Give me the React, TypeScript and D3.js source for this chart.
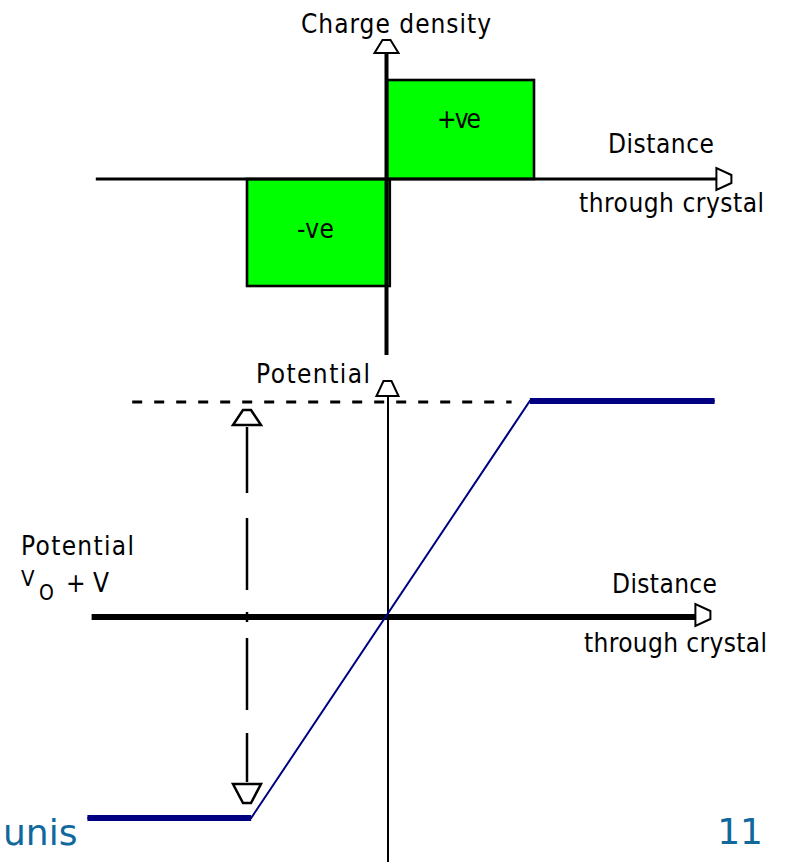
import React from "react";
import * as d3 from "d3";

const W = 792;
const H = 862;

// ---------- data (diagram units) ----------
// distance through crystal, in depletion-width units (0 = junction)
// Top panel: charge density blocks
const chargeLabels = ["-ve", "+ve"];
const chargeX0 = [-1.0, 0.0];
const chargeX1 = [0.02, 1.05];
const chargeRho = [-1.07, 0.99];

// Top panel axis extents
const topAxisX = [-2.08, 2.46];
const topAxisRho = [-1.76, 1.39];

// Bottom panel: potential profile
const potentialX = [-2.14, -0.97, 1.02, 2.34];
const potentialV = [-2.01, -2.01, 2.16, 2.16];

// Bottom panel axis extents
const botAxisX = [-2.11, 2.31];
const botAxisV = [-2.45, 2.36];

// reference dashed level (Vo + V)
const refDashX = [-1.82, 0.89];
const refDashV = 2.16;

// double-headed dashed arrow marking Vo + V
const arrowX = -1.0;
const arrowTipV = [2.07, -1.86];
const arrowSegV0 = [1.9, 0.99, 0.05, -0.21, -1.16];
const arrowSegV1 = [1.24, 0.27, -0.05, -0.93, -1.65];

// text
const titleTop = "Charge density";
const titleBottom = "Potential";
const distLabel1 = "Distance";
const distLabel2 = "through crystal";
const sideLabel = "Potential";
const footerLeft = "unis";
const footerRight = "11";

const GREEN = "#00ff00";
const NAVY = "#000080";
const FOOT = "#11689c";
const LABEL_FONT = "'DejaVu Sans Condensed', 'DejaVu Sans', sans-serif";

function upArrow(cx: number, tip: number, h: number, half: number) {
  return `M${cx - 4},${tip} L${cx + 4},${tip} L${cx + half},${tip + h} L${cx - half},${tip + h} Z`;
}
function downArrow(cx: number, tip: number, h: number, half: number) {
  return `M${cx - 4},${tip} L${cx + 4},${tip} L${cx + half},${tip - h} L${cx - half},${tip - h} Z`;
}
function rightArrow(tip: number, cy: number, h: number, half: number) {
  return `M${tip},${cy - 4} L${tip},${cy + 4} L${tip - h},${cy + half} L${tip - h},${cy - half} Z`;
}

function Label(props: { x: number; y: number; len: number; text: string; size?: number }) {
  return (
    <text
      x={props.x}
      y={props.y}
      fontSize={props.size ?? 26}
      fontFamily={LABEL_FONT}
      textLength={props.len}
      lengthAdjust="spacing"
      fill="#000"
    >
      {props.text}
    </text>
  );
}

export default function App() {
  const x = d3.scaleLinear().domain([-1, 1]).range([247, 527]);
  const yTop = d3.scaleLinear().domain([-1, 1]).range([279, 79]);
  const yPot = d3.scaleLinear().domain([-1, 1]).range([717, 517]);

  const potLine = d3
    .line<number>()
    .x((_, i) => x(potentialX[i]))
    .y((d) => yPot(d));

  const flatSegs = [
    [0, 1],
    [2, 3],
  ];

  return (
    <svg
      width={W}
      height={H}
      viewBox={`0 0 ${W} ${H}`}
      style={{ position: "absolute", left: 0, top: 0, display: "block", background: "#fff" }}
    >
      <rect x={0} y={0} width={W} height={H} fill="#fff" />

      {/* ---------- top panel: charge density ---------- */}
      {chargeLabels.map((lab, i) => {
        const xa = x(chargeX0[i]);
        const xb = x(chargeX1[i]);
        const ya = yTop(Math.max(0, chargeRho[i]));
        const yb = yTop(Math.min(0, chargeRho[i]));
        return (
          <rect
            key={lab}
            x={xa}
            y={ya}
            width={xb - xa}
            height={yb - ya}
            fill={GREEN}
            stroke="#000"
            strokeWidth={2.6}
          />
        );
      })}
      {/* horizontal axis */}
      <line
        x1={x(topAxisX[0])}
        x2={x(topAxisX[1]) - 15}
        y1={yTop(0)}
        y2={yTop(0)}
        stroke="#000"
        strokeWidth={3}
      />
      <path d={rightArrow(x(topAxisX[1]), yTop(0), 15, 11)} fill="#fff" stroke="#000" strokeWidth={2} />
      {/* vertical axis */}
      <line
        x1={x(0) - 0.5}
        x2={x(0) - 0.5}
        y1={yTop(topAxisRho[0])}
        y2={yTop(topAxisRho[1]) + 13}
        stroke="#000"
        strokeWidth={4}
      />
      <path d={upArrow(x(0) - 0.5, yTop(topAxisRho[1]), 13, 12)} fill="#fff" stroke="#000" strokeWidth={2} />

      <Label x={301} y={33} len={190} text={titleTop} />
      <Label x={437} y={128} len={44} text={chargeLabels[1]} />
      <Label x={297} y={238} len={37} text={chargeLabels[0]} />
      <Label x={608} y={153} len={106} text={distLabel1} />
      <Label x={579} y={212} len={185} text={distLabel2} />

      {/* ---------- bottom panel: potential ---------- */}
      {/* dashed reference level */}
      <line
        x1={x(refDashX[0])}
        x2={x(refDashX[1])}
        y1={yPot(refDashV) + 1}
        y2={yPot(refDashV) + 1}
        stroke="#000"
        strokeWidth={3}
        strokeDasharray="10 12"
      />
      {/* vertical axis */}
      <line
        x1={x(0) + 1}
        x2={x(0) + 1}
        y1={yPot(botAxisV[0])}
        y2={yPot(botAxisV[1]) + 15}
        stroke="#000"
        strokeWidth={2}
      />
      <path d={upArrow(x(0) + 0.5, yPot(botAxisV[1]), 15, 11)} fill="#fff" stroke="#000" strokeWidth={2} />
      {/* horizontal axis */}
      <line
        x1={x(botAxisX[0])}
        x2={x(botAxisX[1]) - 15}
        y1={yPot(0)}
        y2={yPot(0)}
        stroke="#000"
        strokeWidth={6}
      />
      <path d={rightArrow(x(botAxisX[1]), yPot(0) - 2, 15, 11)} fill="#fff" stroke="#000" strokeWidth={2} />

      {/* dashed double arrow */}
      {arrowSegV0.map((v0, i) => (
        <line
          key={i}
          x1={x(arrowX)}
          x2={x(arrowX)}
          y1={yPot(v0)}
          y2={yPot(arrowSegV1[i])}
          stroke="#000"
          strokeWidth={2.5}
        />
      ))}
      <path d={upArrow(x(arrowX), yPot(arrowTipV[0]), 15, 14)} fill="#fff" stroke="#000" strokeWidth={2.5} />
      <path d={downArrow(x(arrowX), yPot(arrowTipV[1]), 19, 14)} fill="#fff" stroke="#000" strokeWidth={2.5} />

      {/* potential profile */}
      <path d={potLine(potentialV) ?? ""} fill="none" stroke={NAVY} strokeWidth={2} />
      {flatSegs.map(([a, b], i) => (
        <line
          key={i}
          x1={x(potentialX[a])}
          x2={x(potentialX[b])}
          y1={yPot(potentialV[a])}
          y2={yPot(potentialV[b])}
          stroke={NAVY}
          strokeWidth={6}
        />
      ))}

      <Label x={256} y={383} len={114} text={titleBottom} />
      <Label x={21} y={555} len={113} text={sideLabel} />
      <text fontFamily={LABEL_FONT} fill="#000">
        <tspan x={21} y={586} fontSize={22}>V</tspan>
        <tspan x={39} y={600} fontSize={21}>O</tspan>
        <tspan x={66} y={592} fontSize={26}>+ V</tspan>
      </text>
      <Label x={612} y={593} len={105} text={distLabel1} />
      <Label x={584} y={652} len={183} text={distLabel2} />

      {/* footer */}
      <text x={3} y={845} fontSize={36} fontFamily="'DejaVu Sans', Verdana, sans-serif" fill={FOOT}>
        {footerLeft}
      </text>
      <text
        x={763}
        y={844}
        fontSize={36}
        fontFamily="'DejaVu Sans', Verdana, sans-serif"
        fill={FOOT}
        textAnchor="end"
      >
        {footerRight}
      </text>
    </svg>
  );
}
